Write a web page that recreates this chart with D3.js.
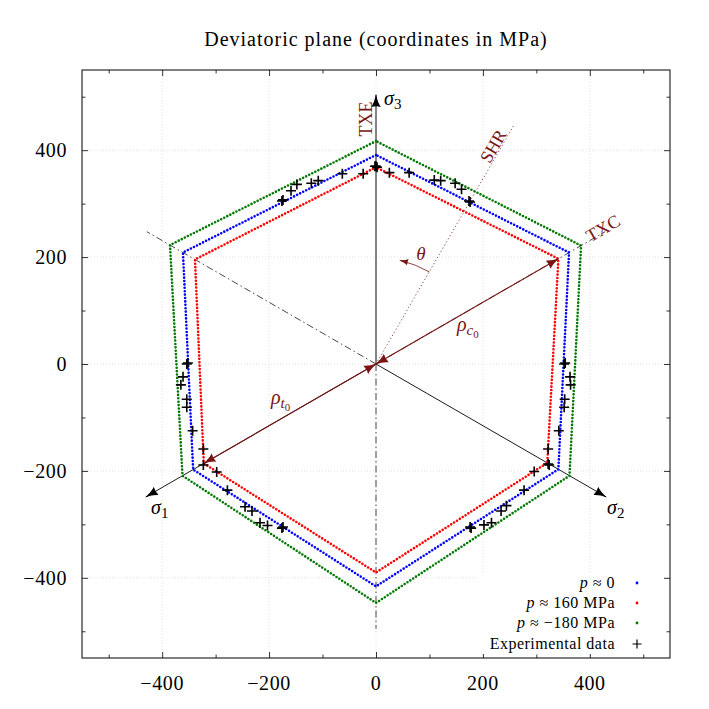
<!DOCTYPE html>
<html>
<head>
<meta charset="utf-8">
<script src="https://cdnjs.cloudflare.com/ajax/libs/d3/7.8.5/d3.min.js"></script>
<style>
  body { margin: 0; background: #fff; }
  text { font-family: "Liberation Serif", "DejaVu Serif", serif; }
</style>
</head>
<body>
<div id="chart"></div>
<script>

// data ====================

// hexagon vertices in polar form (angle in deg, radius in MPa)
var vertexAngles = [90, 150, 210, 270, 330, 30];
var rhoZero = [391, 417, 395, 416, 394, 417];
var rho160 = [368, 391, 372, 390, 370, 394];
var rhoMinus180 = [417, 445, 418, 447, 418, 443];

var expX = [-176, -174, -159, -148, -121, -108, -63, -24, -2,
  0, 2, 25, 62, 109, 121, 148, 160, 174, 176,
  -354, -352, -361, -365, -354, -354, -343, -323, -323,
  352, 354, 363, 364, 353, 352, 342, 322, 322, 324,
  -298, -278, -245, -232, -217, -203, -176, -174,
  296, 277, 244, 234, 216, 202, 178, 176];
var expY = [305, 307, 324, 336, 338, 343, 356, 356, 370,
  370, 368, 358, 358, 344, 343, 338, 327, 305, 303,
  0, 2, -24, -39, -66, -81, -125, -159, -189,
  0, 2, -24, -39, -66, -81, -125, -159, -187, -189,
  -202, -236, -267, -275, -297, -302, -307, -305,
  -201, -236, -265, -275, -297, -301, -307, -305];

var majorTicks = [-400, -200, 0, 200, 400];
var minorTicks = [-500, -300, -100, 100, 300, 500];

var seriesColors = ['#0000ff', '#ff0000', '#007800'];
var seriesLabels = [' \u2248 0', ' \u2248 160 MPa', ' \u2248 \u2212180 MPa'];

var darkRed = '#7a1414';

// layout ====================

var width = 709, height = 709;
var plotLeft = 82, plotRight = 670, plotTop = 70, plotBottom = 658;

var x = d3.scaleLinear().domain([-550, 550]).range([plotLeft, plotRight]);
var y = d3.scaleLinear().domain([-550, 550]).range([plotBottom, plotTop]);

var svg = d3.select('#chart')
  .append('svg')
  .attr('width', width)
  .attr('height', height);

var defs = svg.append('defs');

function arrowMarker(id, color, size) {
  defs.append('marker')
    .attr('id', id)
    .attr('viewBox', '0 -5 12 10')
    .attr('refX', 11)
    .attr('refY', 0)
    .attr('markerUnits', 'userSpaceOnUse')
    .attr('markerWidth', size)
    .attr('markerHeight', size * 0.85)
    .attr('orient', 'auto-start-reverse')
    .append('path')
    .attr('d', 'M0,-4.5 Q4,-1.5 12,0 Q4,1.5 0,4.5 Q1.5,0 0,-4.5Z')
    .attr('fill', color);
}
arrowMarker('arrowBlack', '#000', 13);
arrowMarker('arrowRed', darkRed, 13);
arrowMarker('arrowSmall', darkRed, 9);

function polar(r, deg) {
  var a = deg * Math.PI / 180;
  return [r * Math.cos(a), r * Math.sin(a)];
}

// grid ====================

var grid = svg.append('g');
grid.selectAll('.gx').data(majorTicks).enter().append('line')
  .attr('x1', function(d) { return x(d); })
  .attr('x2', function(d) { return x(d); })
  .attr('y1', plotTop).attr('y2', plotBottom)
  .attr('stroke', '#d8d8d8').attr('stroke-width', 0.8)
  .attr('stroke-dasharray', '1 2');
grid.selectAll('.gy').data(majorTicks).enter().append('line')
  .attr('y1', function(d) { return y(d); })
  .attr('y2', function(d) { return y(d); })
  .attr('x1', plotLeft).attr('x2', plotRight)
  .attr('stroke', '#d8d8d8').attr('stroke-width', 0.8)
  .attr('stroke-dasharray', '1 2');

// axes (mirrored, ticks inside) ====================

function addAxis(axis, tx, ty) {
  svg.append('g').attr('transform', 'translate(' + tx + ',' + ty + ')').call(axis);
}
addAxis(d3.axisBottom(x).tickValues(majorTicks).tickSize(-6).tickFormat(''), 0, plotBottom);
addAxis(d3.axisTop(x).tickValues(majorTicks).tickSize(-6).tickFormat(''), 0, plotTop);
addAxis(d3.axisLeft(y).tickValues(majorTicks).tickSize(-6).tickFormat(''), plotLeft, 0);
addAxis(d3.axisRight(y).tickValues(majorTicks).tickSize(-6).tickFormat(''), plotRight, 0);
addAxis(d3.axisBottom(x).tickValues(minorTicks).tickSize(-3.5).tickFormat(''), 0, plotBottom);
addAxis(d3.axisTop(x).tickValues(minorTicks).tickSize(-3.5).tickFormat(''), 0, plotTop);
addAxis(d3.axisLeft(y).tickValues(minorTicks).tickSize(-3.5).tickFormat(''), plotLeft, 0);
addAxis(d3.axisRight(y).tickValues(minorTicks).tickSize(-3.5).tickFormat(''), plotRight, 0);

svg.selectAll('.domain').remove();
svg.selectAll('.tick line').attr('stroke', '#000').attr('stroke-width', 0.8);

svg.append('rect')
  .attr('x', plotLeft).attr('y', plotTop)
  .attr('width', plotRight - plotLeft).attr('height', plotBottom - plotTop)
  .attr('fill', 'none').attr('stroke', '#000').attr('stroke-width', 1);

var fmt = function(d) { return d < 0 ? '\u2212' + Math.abs(d) : '' + d; };

svg.selectAll('.xlab').data(majorTicks).enter().append('text')
  .attr('x', function(d) { return x(d); })
  .attr('y', 690)
  .attr('text-anchor', 'middle')
  .attr('font-size', 20)
  .attr('letter-spacing', 0.6)
  .text(fmt);

svg.selectAll('.ylab').data(majorTicks).enter().append('text')
  .attr('x', 67)
  .attr('y', function(d) { return y(d) + 7; })
  .attr('text-anchor', 'end')
  .attr('font-size', 20)
  .attr('letter-spacing', 0.6)
  .text(fmt);

svg.append('text')
  .attr('x', 376).attr('y', 46)
  .attr('text-anchor', 'middle')
  .attr('font-size', 20)
  .attr('letter-spacing', 1)
  .text('Deviatoric plane (coordinates in MPa)');

// reference lines ====================

var refs = svg.append('g');

// meridian dash-dot lines
[30, 150, 270].forEach(function(a) {
  var p = polar(495, a);
  refs.append('line')
    .attr('x1', x(0)).attr('y1', y(0))
    .attr('x2', x(p[0])).attr('y2', y(p[1]))
    .attr('stroke', '#333').attr('stroke-width', 0.9)
    .attr('stroke-dasharray', '7 3 1.5 3');
});

// SHR line
var shr = polar(517, 60);
refs.append('line')
  .attr('x1', x(0)).attr('y1', y(0))
  .attr('x2', x(shr[0])).attr('y2', y(shr[1]))
  .attr('stroke', darkRed).attr('stroke-width', 0.8)
  .attr('stroke-dasharray', '1.2 2.4');

// sigma axes
var s3 = polar(503, 90);
refs.append('line')
  .attr('x1', x(0)).attr('y1', y(0))
  .attr('x2', x(s3[0])).attr('y2', y(s3[1]))
  .attr('stroke', '#666').attr('stroke-width', 1.6)
  .attr('marker-end', 'url(#arrowBlack)');

[210, 330].forEach(function(a) {
  var p = polar(497, a);
  refs.append('line')
    .attr('x1', x(0)).attr('y1', y(0))
    .attr('x2', x(p[0])).attr('y2', y(p[1]))
    .attr('stroke', '#000').attr('stroke-width', 0.9)
    .attr('marker-end', 'url(#arrowBlack)');
});

// hexagons ====================

var line = d3.line()
  .x(function(d) { return x(d[0]); })
  .y(function(d) { return y(d[1]); })
  .curve(d3.curveLinearClosed);

function hexPoints(radii) {
  return radii.map(function(r, i) { return polar(r, vertexAngles[i]); });
}

[rhoMinus180, rhoZero, rho160].forEach(function(radii, i) {
  var color = [seriesColors[2], seriesColors[0], seriesColors[1]][i];
  svg.append('path')
    .attr('d', line(hexPoints(radii)))
    .attr('fill', 'none')
    .attr('stroke', color)
    .attr('stroke-width', 2.6)
    .attr('stroke-linecap', 'round')
    .attr('stroke-dasharray', '0 3.4');
});

// rho arrows ====================

var txc = polar(rho160[5], vertexAngles[5]);
var txe = polar(rho160[2], vertexAngles[2]);
[txc, txe].forEach(function(p) {
  svg.append('line')
    .attr('x1', x(0)).attr('y1', y(0))
    .attr('x2', x(p[0])).attr('y2', y(p[1]))
    .attr('stroke', darkRed).attr('stroke-width', 1.1)
    .attr('marker-start', 'url(#arrowRed)')
    .attr('marker-end', 'url(#arrowRed)');
});

// theta arc
var arcR = x(199) - x(0);
var a0 = polar(199, 60), a1 = polar(199, 77);
svg.append('path')
  .attr('d', 'M' + x(a0[0]) + ',' + y(a0[1]) + ' A' + arcR + ',' + arcR + ' 0 0 0 ' + x(a1[0]) + ',' + y(a1[1]))
  .attr('fill', 'none')
  .attr('stroke', darkRed).attr('stroke-width', 0.8)
  .attr('marker-end', 'url(#arrowSmall)');

// experimental data ====================

svg.append('g').selectAll('path')
  .data(expX.map(function(d, i) { return [d, expY[i]]; }))
  .enter().append('path')
  .attr('d', 'M-5,0H5M0,-5V5')
  .attr('transform', function(d) { return 'translate(' + x(d[0]) + ',' + y(d[1]) + ')'; })
  .attr('stroke', '#000')
  .attr('stroke-width', 1.6)
  .attr('fill', 'none');

// labels ====================

function sigmaLabel(px, py, sub) {
  var t = svg.append('text').attr('x', px).attr('y', py).attr('font-size', 20);
  t.append('tspan').attr('font-style', 'italic').text('\u03c3');
  t.append('tspan').attr('font-size', 15).attr('dy', 4).text(sub);
}
sigmaLabel(384, 105, '3');
sigmaLabel(151, 514, '1');
sigmaLabel(607, 514, '2');

function rhoLabel(px, py, sub) {
  var t = svg.append('text').attr('x', px).attr('y', py)
    .attr('font-size', 20).attr('fill', darkRed);
  t.append('tspan').attr('font-style', 'italic').text('\u03c1');
  t.append('tspan').attr('font-style', 'italic').attr('font-size', 15).attr('dy', 4).text(sub);
  t.append('tspan').attr('font-size', 11).attr('dy', 3).text('0');
}
rhoLabel(457, 331, 'c');
rhoLabel(271, 404, 't');

svg.append('text')
  .attr('transform', 'translate(421,260)')
  .attr('text-anchor', 'middle')
  .attr('font-size', 19).attr('font-style', 'italic')
  .attr('fill', darkRed)
  .text('\u03b8');

function rotLabel(px, py, angle, txt) {
  svg.append('text')
    .attr('transform', 'translate(' + px + ',' + py + ') rotate(' + angle + ')')
    .attr('text-anchor', 'middle')
    .attr('dy', '0.35em')
    .attr('font-size', 18)
    .attr('fill', darkRed)
    .text(txt);
}
rotLabel(366, 119, -90, 'TXE');
rotLabel(493, 146, -60, 'SHR');
rotLabel(603, 228, -30, 'TXC');

// legend ====================

var legend = svg.append('g');
legend.append('rect')
  .attr('x', 476).attr('y', 572)
  .attr('width', 188).attr('height', 82)
  .attr('fill', '#fff');

var rows = [583, 603, 623, 644];
seriesLabels.forEach(function(lab, i) {
  var t = legend.append('text')
    .attr('x', 615).attr('y', rows[i] + 5)
    .attr('text-anchor', 'end')
    .attr('font-size', 16)
    .attr('letter-spacing', 0.5);
  t.append('tspan').attr('font-style', 'italic').text('p');
  t.append('tspan').text(lab);
  legend.append('circle')
    .attr('cx', 637).attr('cy', rows[i])
    .attr('r', 1.4)
    .attr('fill', seriesColors[i]);
});
legend.append('text')
  .attr('x', 615).attr('y', rows[3] + 5)
  .attr('text-anchor', 'end')
  .attr('font-size', 16)
  .attr('letter-spacing', 0.5)
  .text('Experimental data');
legend.append('path')
  .attr('d', 'M632.5,' + rows[3] + 'H641.5M637,' + (rows[3] - 4.5) + 'V' + (rows[3] + 4.5))
  .attr('stroke', '#000').attr('stroke-width', 1.2);

</script>
</body>
</html>
